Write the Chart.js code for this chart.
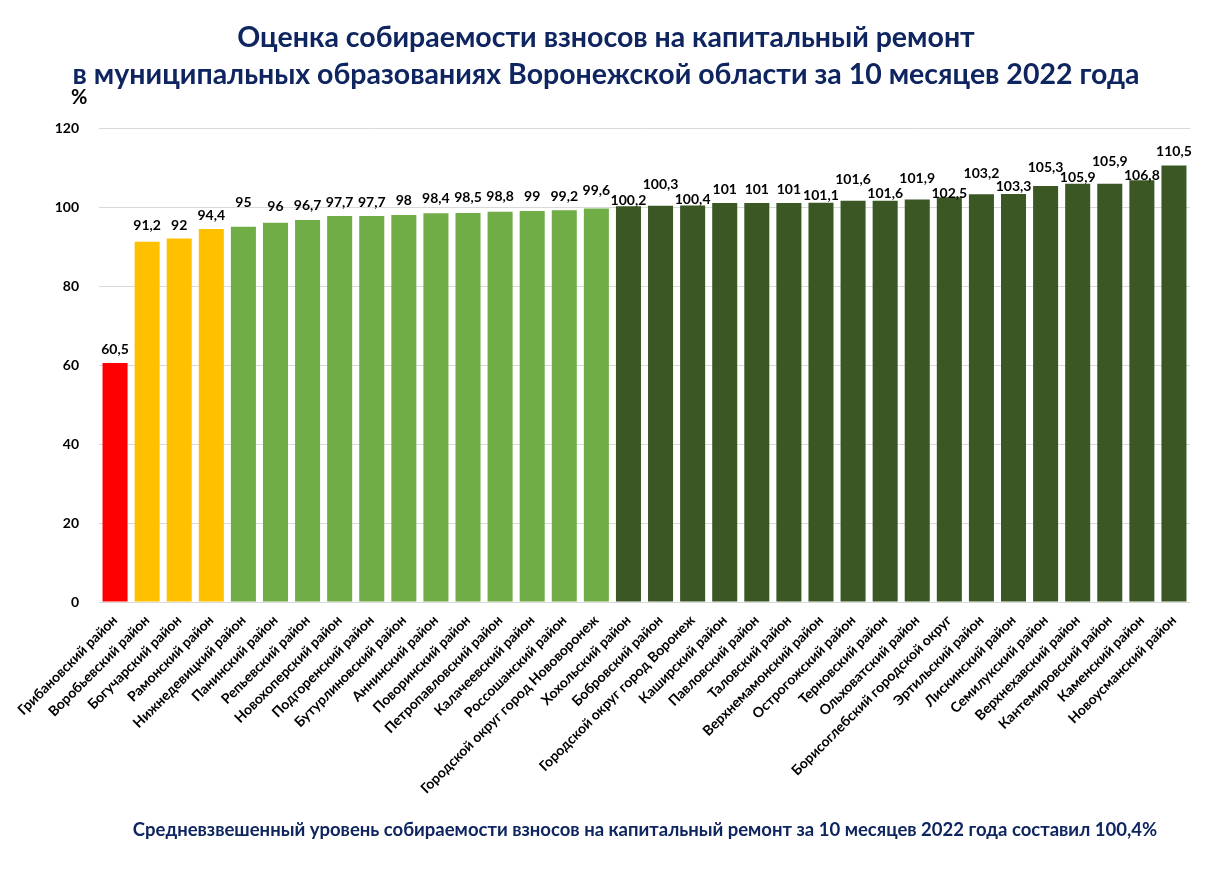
<!DOCTYPE html>
<html lang="ru">
<head>
<meta charset="utf-8">
<title>Собираемость взносов на капитальный ремонт</title>
<script src="https://cdn.jsdelivr.net/npm/chart.js@4/dist/chart.umd.min.js"></script>
<style>
  html, body { margin: 0; padding: 0; background: #fff; }
  #wrap { width: 1212px; height: 872px; position: relative; }
</style>
</head>
<body>
<div id="wrap"><canvas id="myChart" width="1212" height="872"></canvas></div>
<script>
// DATA
let districts = [
    "Грибановский район", "Воробьевский район", "Богучарский район", "Рамонский район",
    "Нижнедевицкий район", "Панинский район", "Репьевский район", "Новохоперский район",
    "Подгоренский район", "Бутурлиновский район", "Аннинский район", "Поворинский район",
    "Петропавловский район", "Калачеевский район", "Россошанский район",
    "Городской округ город Нововоронеж", "Хохольский район", "Бобровский район",
    "Городской округ город Воронеж", "Каширский район", "Павловский район", "Таловский район",
    "Верхнемамонский район", "Острогожский район", "Терновский район", "Ольховатский район",
    "Борисоглебский городской округ", "Эртильский район", "Лискинский район",
    "Семилукский район", "Верхнехавский район", "Кантемировский район", "Каменский район",
    "Новоусманский район"
];
let collection = [
    60.5, 91.2, 92, 94.4, 95, 96, 96.7, 97.7, 97.7, 98, 98.4, 98.5, 98.8, 99, 99.2, 99.6,
    100.2, 100.3, 100.4, 101, 101, 101, 101.1, 101.6, 101.6, 101.9, 102.5, 103.2, 103.3,
    105.3, 105.9, 105.9, 106.8, 110.5
];
let yTicks = [0, 20, 40, 60, 80, 100, 120];

let titleLines = [
    "Оценка собираемости взносов на капитальный ремонт",
    "в муниципальных образованиях Воронежской области за 10 месяцев 2022 года"
];
let unitLabel = "%";
let footerText = "Средневзвешенный уровень собираемости взносов на капитальный ремонт за 10 месяцев 2022 года составил 100,4%";

// STYLE
let FONT = "Lato, 'Open Sans', sans-serif";
let NAVY = "#0e2560";

let barColor = (v) => {
    if (v < 90) return "#ff0000";
    if (v < 95) return "#ffc000";
    if (v < 100) return "#70ad47";
    return "#3a5724";
};

// distance (px) from bar top to the value label, the way the labels sit in the original
let labelGap = [14, 16, 13, 14, 24, 16, 15, 14, 14, 14, 15, 15, 15, 14, 14, 18,
                6, 21, 6, 14, 14, 14, 7, 21, 7, 21, 4, 21, 7, 19, 6, 22, 5, 14];

let fmt = (v) => v.toString().replace(".", ",");

// draws value labels, titles, unit and footer
let textPlugin = {
    id: "textPlugin",
    afterDatasetsDraw(chart) {
        let ctx = chart.ctx;
        let meta = chart.getDatasetMeta(0);
        ctx.save();
        ctx.fillStyle = "#000";
        ctx.font = "bold 14px " + FONT;
        ctx.textAlign = "center";
        ctx.textBaseline = "middle";
        meta.data.forEach((bar, i) => {
            ctx.fillText(fmt(collection[i]), bar.x, bar.y - labelGap[i]);
        });
        ctx.restore();
    },
    afterDraw(chart) {
        let ctx = chart.ctx;
        ctx.save();
        ctx.fillStyle = NAVY;
        ctx.textAlign = "center";
        ctx.textBaseline = "middle";
        ctx.font = "bold 28.5px " + FONT;
        ctx.fillText(titleLines[0], 606, 38);
        ctx.fillText(titleLines[1], 606, 75);

        ctx.font = "bold 18.5px " + FONT;
        ctx.fillText(footerText, 645, 830);

        ctx.fillStyle = "#000";
        ctx.textAlign = "left";
        ctx.font = "bold 20px " + FONT;
        ctx.fillText(unitLabel, 71, 98);
        ctx.restore();
    }
};

let ctx = document.getElementById("myChart").getContext("2d");
let myChart = new Chart(ctx, {
    type: "bar",
    data: {
        labels: districts,
        datasets: [{
            label: "%",
            data: collection,
            backgroundColor: collection.map(barColor),
            borderWidth: 0,
            categoryPercentage: 0.78,
            barPercentage: 1
        }]
    },
    options: {
        responsive: false,
        animation: false,
        layout: {
            padding: { top: 128, right: 22, bottom: 20, left: 0 }
        },
        plugins: {
            legend: { display: false },
            tooltip: { enabled: false }
        },
        scales: {
            x: {
                grid: { display: false },
                border: { display: false },
                ticks: {
                    color: "#000",
                    font: { family: FONT, size: 14, weight: "bold" },
                    maxRotation: 45,
                    minRotation: 45,
                    autoSkip: false,
                    padding: 2
                },
                afterFit(scale) { scale.height = 250; }
            },
            y: {
                min: 0,
                max: 120,
                afterBuildTicks(scale) { scale.ticks = yTicks.map(v => ({ value: v })); },
                grid: { color: "#d9d9d9", lineWidth: 1, drawTicks: false },
                border: { display: false },
                ticks: {
                    color: "#000",
                    font: { family: FONT, size: 14, weight: "bold" },
                    padding: 20
                },
                afterFit(scale) { scale.width = 99; }
            }
        }
    },
    plugins: [textPlugin]
});
</script>
</body>
</html>
